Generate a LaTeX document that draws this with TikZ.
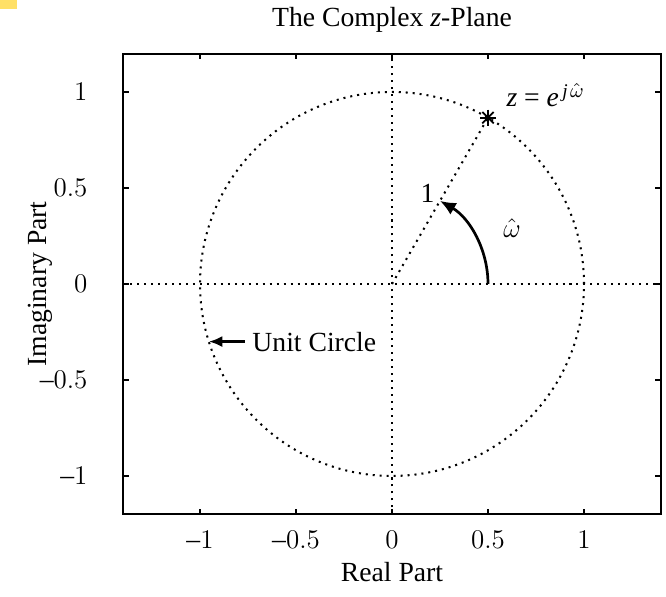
\documentclass[tikz,border=0pt]{standalone}
\usepackage{fontspec}
\setmainfont{Liberation Serif}
\usetikzlibrary{arrows.meta,calc}
\definecolor{ink}{HTML}{000000}
\definecolor{marker}{HTML}{FFE066}
\newcommand{\xtick}[1]{%
  \draw[ink,line width=0.6pt] (#1,-1.2) -- (#1,-1.17) (#1,1.2) -- (#1,1.17);
  \node[font=\fontsize{12.3}{14}\selectfont] (xt#1) at (#1,-1.335) {\tickname{#1}};}
\newcommand{\ytick}[1]{%
  \draw[ink,line width=0.6pt] (-1.4,#1) -- (-1.37,#1) (1.4,#1) -- (1.37,#1);
  \node[anchor=east,font=\fontsize{12.3}{14}\selectfont] (yt#1) at (-1.545,#1) {\tickname{#1}};}
\newcommand{\tickname}[1]{\ifdim#1pt<0pt –\fi\ifdim#1pt<0pt\pgfmathparse{-#1}\else\pgfmathparse{#1}\fi
  \pgfmathprintnumber[fixed,precision=1]{\pgfmathresult}}

\begin{document}
\begin{tikzpicture}[x=3cm,y=3cm,
    dots/.style={ink,line width=0.9pt,dash pattern=on 0.9pt off 2.2pt},
    lbl/.style={font=\fontsize{12.3}{14}\selectfont}]
  \useasboundingbox (-2.0417,-1.630) rectangle (1.427,1.479);
  \fill[marker] (-2.0417,1.479) rectangle (-1.953,1.432);

  % axes frame and ticks
  \draw[ink,line width=0.9pt] (-1.4,-1.2) rectangle (1.4,1.2);
  \foreach \t in {-1,-0.5,0,0.5,1}{\xtick{\t}\ytick{\t}}

  \node[lbl] (title) at (0,1.375) {The Complex \textit{z}-Plane};
  \node[lbl] (xlabel) at (0,-1.5) {Real Part};
  \node[lbl,rotate=90] (ylabel) at (-1.833,0) {Imaginary Part};

  % dotted axes and unit circle
  \coordinate (O) at (0,0);
  \coordinate (zpt) at (60:1);
  \draw[dots] (-1.4,0) -- (1.4,0);
  \draw[dots] (0,-1.2) -- (0,1.2);
  \draw[dots] (O) circle[radius=1];
  \draw[dots] (O) -- (zpt);

  % star marker at z
  \foreach \a in {0,45,90,135}
    \draw[ink,line width=0.8pt] ($(zpt)+(\a:0.042)$) -- ($(zpt)+(\a+180:0.042)$);
  \node[lbl,anchor=base west] (zlbl) at (0.555,0.922)
       {\textit{z} = \textit{e}\kern1.5pt\textsuperscript{\textit{j}\kern1pt$\hat{\omega}$}};

  % angle arrow
  \coordinate (wstart) at (0.5,0);
  \draw[ink,line width=1.2pt,-{Latex[length=7pt,width=6pt]}]
       (wstart) arc[start angle=0,end angle=60,radius=0.5];
  \node[lbl] (wlbl) at (0.625,0.29) {$\hat{\omega}$};
  \node[lbl,anchor=base east] (one) at (0.262,0.422) {1};

  % unit circle label
  \coordinate (ucpt) at (-0.954,-0.3);
  \node[lbl,anchor=west] (uclbl) at (-0.768,-0.3) {Unit Circle};
  \draw[ink,line width=1.2pt,-{Latex[length=6pt,width=5pt]}] (uclbl.west) -- (ucpt);
\end{tikzpicture}
\end{document}
